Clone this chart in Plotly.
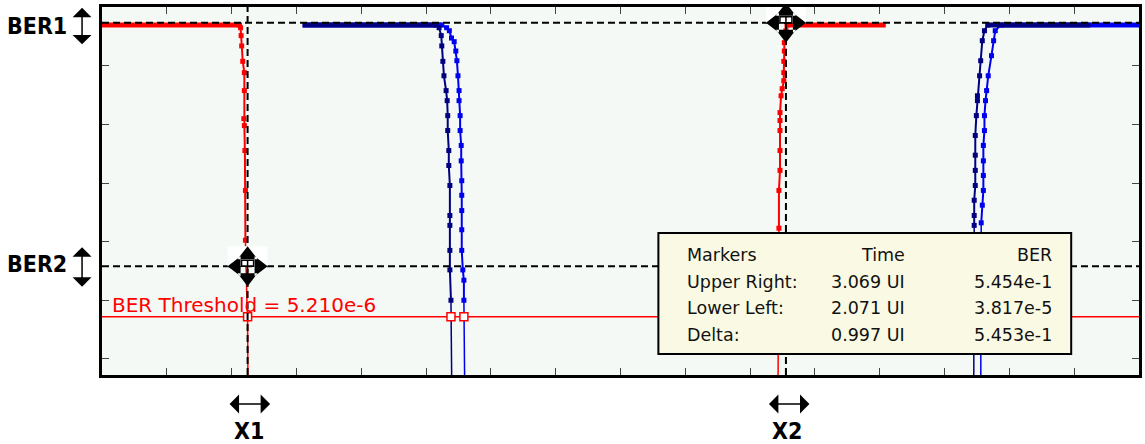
import numpy as np
import plotly.graph_objects as go

# ---------------- data ----------------
# cursor readout
BER1 = 5.454e-1          # upper-right cursor BER
BER2 = 3.817e-5          # lower-left cursor BER
X1 = 2.071               # lower-left cursor time (UI)
X2 = 3.069               # upper-right cursor time (UI)
BER_THRESHOLD = 5.210e-6
PLATEAU_BER = 0.5

table_header = ["Markers", "Time", "BER"]
table_rows = [
    ["Upper Right:", "3.069 UI", "5.454e-1"],
    ["Lower Left:", "2.071 UI", "3.817e-5"],
    ["Delta:", "0.997 UI", "5.453e-1"],
]

# red curve, left edge
red_l_plateau_x = [1.801, 2.056]
red_l_x = [2.056, 2.058, 2.059, 2.060, 2.062, 2.065, 2.065, 2.064, 2.065, 2.066, 2.067, 2.067]
red_l_ber = [0.5, 0.45, 0.33, 0.22, 0.12, 0.077, 0.038, 0.0126, 0.0096, 0.0036, 7.5e-4, 1.06e-4]
red_l_ext_x = [2.067, 2.068, 2.070, 2.071, 2.072]
red_l_ext_ber = [1.06e-4, 2.2e-5, 8e-6, 5.2e-6, 1e-7]

# red curve, right edge
red_r_plateau_x = [3.071, 3.254]
red_r_x = [3.071, 3.069, 3.066, 3.066, 3.065, 3.065, 3.065, 3.062, 3.060, 3.058, 3.058, 3.058, 3.058, 3.058, 3.056, 3.056]
red_r_ber = [0.5, 0.40, 0.25, 0.18, 0.12, 0.077, 0.056, 0.041, 0.031, 0.016, 0.0117, 0.0079, 0.0036, 0.00165, 7.5e-4, 1.7e-4]
red_r_ext_x = [3.056, 3.055, 3.054]
red_r_ext_ber = [1.7e-4, 5e-6, 1e-7]

# navy curve, left edge
navy_l_plateau_x = [2.173, 2.420]
navy_l_x = [2.420, 2.426, 2.430, 2.431, 2.433, 2.435, 2.439, 2.441, 2.442, 2.442, 2.444, 2.444,
            2.446, 2.446, 2.446, 2.446, 2.446, 2.448]
navy_l_ber = [0.5, 0.45, 0.33, 0.22, 0.12, 0.068, 0.038, 0.0256, 0.0142, 0.0079, 0.0036, 0.0020,
              9.1e-4, 2.8e-4, 1.9e-4, 7.1e-5, 3.3e-5, 1.0e-5]
navy_l_ext_x = [2.448, 2.448, 2.450]
navy_l_ext_ber = [1.0e-5, 5.2e-6, 1e-7]

# blue curve, left edge
blue_l_plateau_x = [2.173, 2.431]
blue_l_x = [2.431, 2.440, 2.445, 2.449, 2.454, 2.457, 2.459, 2.461, 2.463, 2.463, 2.465, 2.465,
            2.467, 2.467, 2.468, 2.468, 2.468, 2.468, 2.468, 2.470, 2.472, 2.472]
blue_l_ber = [0.5, 0.45, 0.40, 0.30, 0.26, 0.18, 0.123, 0.068, 0.038, 0.0256, 0.0142, 0.0079,
              0.0044, 0.0024, 0.0011, 6.2e-4, 3.4e-4, 1.6e-4, 7.1e-5, 3.3e-5, 2.2e-5, 1.0e-5]
blue_l_ext_x = [2.472, 2.472, 2.474]
blue_l_ext_ber = [1.0e-5, 5.2e-6, 1e-7]

# navy curve, right edge
navy_r_plateau_x = [3.443, 3.633]
navy_r_x = [3.418, 3.418, 3.418, 3.420, 3.420, 3.420, 3.420, 3.422, 3.424, 3.424, 3.428, 3.430, 3.433, 3.437, 3.443]
navy_r_ber = [1.9e-4, 2.8e-4, 5.1e-4, 9.1e-4, 1.65e-3, 3.0e-3, 6.5e-3, 0.0142, 0.0256, 0.031, 0.068, 0.123, 0.27, 0.40, 0.5]
navy_r_ext_x = [3.418, 3.417]
navy_r_ext_ber = [1.9e-4, 1e-7]

# blue curve, right edge
blue_r_plateau_x = [3.467, 3.7235]
blue_r_x = [3.431, 3.433, 3.435, 3.435, 3.435, 3.435, 3.437, 3.437, 3.439, 3.441, 3.444, 3.450, 3.454, 3.457, 3.467]
blue_r_ber = [2.1e-4, 4.2e-4, 7.5e-4, 1.35e-3, 2.4e-3, 4.4e-3, 7.9e-3, 0.0142, 0.0256, 0.038, 0.068, 0.15, 0.27, 0.40, 0.5]
blue_r_ext_x = [3.431, 3.430]
blue_r_ext_ber = [2.1e-4, 1e-7]

# where the curves cross the BER threshold
threshold_cross_x = [2.071, 2.448, 2.472]

# ---------------- layout constants ----------------
W, H = 1145, 444
M_L, M_R, M_T, M_B = 102, 3, 7, 69
X_RANGE = [1.8011, 3.7235]
LOGY_RANGE = [-6.276, 0.007]
N_XTICKS = 16

RED = "#ff0000"
NAVY = "#000080"
BLUE = "#0000f0"
PLOT_BG = "#f4f9f5"
BOX_BG = "#fafae4"


def px_x(px):
    return (px - M_L) / (W - M_L - M_R)


def px_y(py):
    return (H - M_B - py) / (H - M_T - M_B)


fig = go.Figure()


def add_curve(plateau_x, x, ber, ext_x, ext_ber, color):
    fig.add_trace(go.Scatter(x=plateau_x, y=[PLATEAU_BER] * len(plateau_x), mode="lines",
                             line=dict(color=color, width=5), hoverinfo="skip"))
    fig.add_trace(go.Scatter(x=ext_x, y=ext_ber, mode="lines",
                             line=dict(color=color, width=1.5), hoverinfo="skip"))
    fig.add_trace(go.Scatter(x=x, y=ber, mode="lines+markers",
                             line=dict(color=color, width=2),
                             marker=dict(symbol="square", size=5, color=color, line=dict(width=0))))


add_curve(red_l_plateau_x, red_l_x, red_l_ber, red_l_ext_x, red_l_ext_ber, RED)
add_curve(red_r_plateau_x, red_r_x, red_r_ber, red_r_ext_x, red_r_ext_ber, RED)
add_curve(blue_l_plateau_x, blue_l_x, blue_l_ber, blue_l_ext_x, blue_l_ext_ber, BLUE)
add_curve(navy_l_plateau_x, navy_l_x, navy_l_ber, navy_l_ext_x, navy_l_ext_ber, NAVY)
add_curve(blue_r_plateau_x, blue_r_x, blue_r_ber, blue_r_ext_x, blue_r_ext_ber, BLUE)
add_curve(navy_r_plateau_x, navy_r_x, navy_r_ber, navy_r_ext_x, navy_r_ext_ber, NAVY)

# threshold crossing markers
fig.add_trace(go.Scatter(x=threshold_cross_x, y=[BER_THRESHOLD] * len(threshold_cross_x),
                         mode="markers",
                         marker=dict(symbol="square", size=8, color="white",
                                     line=dict(color=RED, width=1.5))))

shapes = []
# threshold line (below traces)
shapes.append(dict(type="line", xref="paper", yref="y", x0=0, x1=1,
                   y0=BER_THRESHOLD, y1=BER_THRESHOLD, layer="below",
                   line=dict(color=RED, width=1.5)))
# cursor dashed lines
DASH = "7px,4px"
for yv in (BER1, BER2):
    shapes.append(dict(type="line", xref="paper", yref="y", x0=0, x1=1, y0=yv, y1=yv,
                       layer="above", line=dict(color="black", width=2, dash=DASH)))
for xv in (X1, X2):
    shapes.append(dict(type="line", xref="x", yref="paper", x0=xv, x1=xv, y0=0, y1=1,
                       layer="above", line=dict(color="black", width=2, dash=DASH)))
# readout box
shapes.append(dict(type="rect", xref="paper", yref="paper",
                   x0=px_x(660), x1=px_x(1074), y0=px_y(354), y1=px_y(233),
                   fillcolor=BOX_BG, line=dict(color="black", width=2), layer="above"))


def cursor_icon(xa, ya):
    c = dict(xref="x", yref="y", xsizemode="pixel", ysizemode="pixel",
             xanchor=xa, yanchor=ya, layer="above")
    return [
        dict(type="rect", x0=-20, x1=20, y0=-20, y1=20, fillcolor="white",
             line=dict(width=0), **c),
        dict(type="path",
             path="M0,20 L-10,7 L10,7 Z M0,-20 L-10,-7 L10,-7 Z "
                  "M-20,0 L-7,-10 L-7,10 Z M20,0 L7,-10 L7,10 Z",
             fillcolor="black", line=dict(width=0), **c),
        dict(type="rect", x0=-6, x1=6, y0=-6, y1=6, fillcolor="white",
             line=dict(color="black", width=1.5), **c),
        dict(type="path", path="M-6,0 L6,0 M0,-6 L0,6",
             line=dict(color="black", width=1.5), **c),
    ]


shapes += cursor_icon(X1, BER2)
shapes += cursor_icon(X2, BER1)

annotations = []
TBL_FONT = dict(family="DejaVu Sans", size=17.5, color="#111111")
col_px = [(687, "left"), (909, "right"), (1057, "right")]
row_py = [255, 282, 308, 335]
for r, row in enumerate([table_header] + table_rows):
    for c, txt in enumerate(row):
        cx, anchor = col_px[c]
        annotations.append(dict(text=txt, xref="paper", yref="paper", x=px_x(cx), y=px_y(row_py[r]),
                                xanchor=anchor, yanchor="middle", showarrow=False, font=TBL_FONT))

# threshold label
annotations.append(dict(text=f"BER Threshold = {BER_THRESHOLD:.3e}".replace("e-06", "e-6"),
                        xref="paper", yref="y", x=px_x(110), y=np.log10(BER_THRESHOLD),
                        xanchor="left", yanchor="middle", yshift=12, showarrow=False,
                        font=dict(family="DejaVu Sans", size=20, color=RED)))

LBL_FONT = dict(family="DejaVu Sans Condensed, Liberation Sans Narrow, Liberation Sans, sans-serif",
                size=23, color="black", weight="bold")
ARROW = dict(text="", showarrow=True, arrowside="end+start", arrowhead=1, startarrowhead=1,
             arrowsize=2.1, startarrowsize=2.1, arrowwidth=1.5, arrowcolor="black",
             axref="pixel", ayref="pixel")

# BER1 / BER2 labels with vertical arrows
for name, val, tshift, head_shift, length in (("BER1", BER1, -3, 15, 38), ("BER2", BER2, 2, 19, 41)):
    annotations.append(dict(text=name, xref="paper", yref="y", x=px_x(37), y=np.log10(val),
                            xanchor="center", yanchor="middle", yshift=tshift,
                            showarrow=False, font=LBL_FONT))
    annotations.append(dict(xref="paper", yref="y", x=px_x(82), y=np.log10(val),
                            yshift=head_shift, ax=0, ay=length, **ARROW))

# X1 / X2 labels with horizontal arrows
for name, val, head_shift in (("X1", X1, -18), ("X2", X2, -17)):
    annotations.append(dict(text=name, xref="x", yref="paper", x=val, y=px_y(431),
                            xanchor="center", yanchor="middle", xshift=1,
                            showarrow=False, font=LBL_FONT))
    annotations.append(dict(xref="x", yref="paper", x=val, y=px_y(404),
                            xshift=head_shift, ax=42, ay=0, **ARROW))

axis_common = dict(showgrid=False, zeroline=False, showticklabels=False,
                   ticks="inside", ticklen=7, tickwidth=1, tickcolor="#444444",
                   showline=True, linecolor="black", linewidth=3, mirror="ticks")

fig.update_layout(
    width=W, height=H,
    margin=dict(l=M_L, r=M_R, t=M_T, b=M_B, pad=0),
    paper_bgcolor="white", plot_bgcolor=PLOT_BG,
    showlegend=False,
    font=dict(family="DejaVu Sans"),
    xaxis=dict(range=X_RANGE, tickmode="linear", tick0=X_RANGE[0],
               dtick=(X_RANGE[1] - X_RANGE[0]) / N_XTICKS, **axis_common),
    yaxis=dict(type="log", range=LOGY_RANGE, dtick=1, **axis_common),
    shapes=shapes,
    annotations=annotations,
)

fig.write_html("out.html")
